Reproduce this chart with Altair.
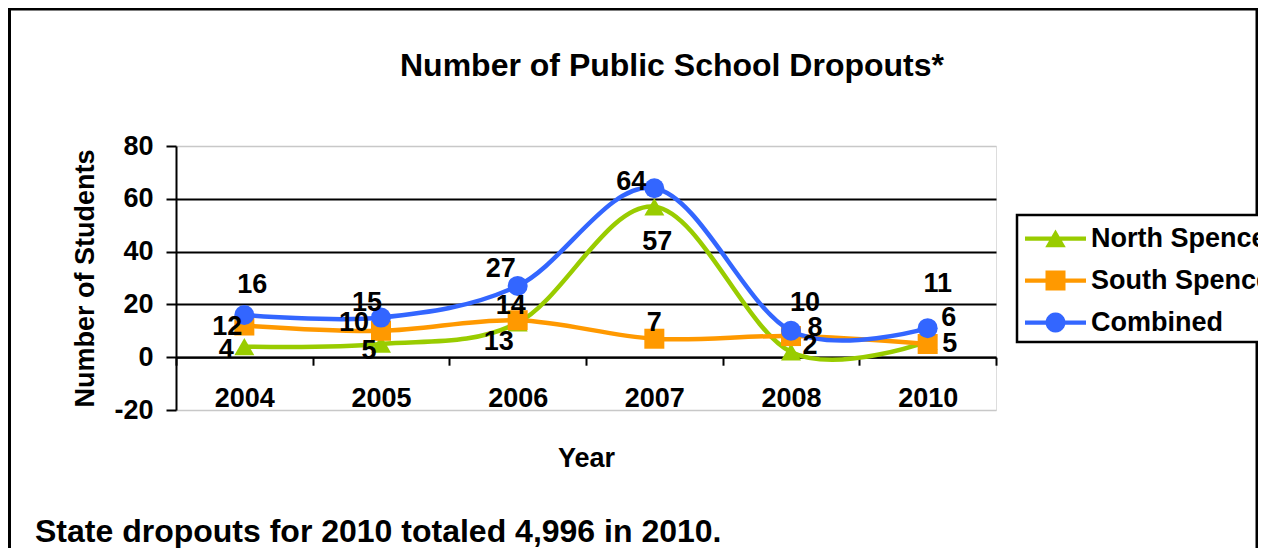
import math
import altair as alt
import pandas as pd

FONT = "Liberation Sans"

# ---------------- data ----------------
years = ["2004", "2005", "2006", "2007", "2008", "2010"]
north_spencer = [4, 5, 13, 57, 2, 6]
south_spencer = [12, 10, 14, 7, 8, 5]
combined = [16, 15, 27, 64, 10, 11]
series_names = ["North Spencer", "South Spencer", "Combined"]
series_values = [north_spencer, south_spencer, combined]
y_ticks = [-20, 0, 20, 40, 60, 80]
chart_title = "Number of Public School Dropouts*"
footnote = "State dropouts for 2010 totaled 4,996 in 2010."
x_title = "Year"
y_title = "Number of Students"

# ---------------- style ----------------
series_colors = ["#99CC00", "#FF9900", "#3366FF"]
marker_shapes = ["triangle-up", "square", "circle"]
# data label offsets (dx, dy) in pixels from each marker
label_offsets = [
    [(-18, 3), (-12, 7), (-19, 19), (3, 35), (19, -6), (21, -23)],
    [(-17, 1), (-27, -8), (-7, -14), (0, -16), (24, -8), (22, 0)],
    [(8, -30), (-14, -15), (-17, -17), (-23, -6), (14, -28), (10, -44)],
]

W, H = 820, 264
PAD = {"left": 168, "top": 138, "right": 262, "bottom": 138}

rows = []
for name, vals in zip(series_names, series_values):
    for yr, v in zip(years, vals):
        rows.append({"series": name, "year": yr, "value": v})
df = pd.DataFrame(rows)

x_enc = alt.X(
    "year:O",
    scale=alt.Scale(type="band", domain=years, paddingInner=0, paddingOuter=0),
    axis=alt.Axis(
        title=x_title,
        labelAngle=0,
        offset=-52.8,
        tickBand="extent",
        grid=False,
        domainColor="black",
        domainWidth=2,
        tickColor="black",
        tickWidth=2,
        tickSize=8,
        labelPadding=20,
        labelFont=FONT,
        labelFontSize=27,
        labelFontWeight="bold",
        labelColor="black",
        titleFont=FONT,
        titleFontSize=27,
        titleFontWeight="bold",
        titleColor="black",
        titlePadding=34,
    ),
)
y_enc = alt.Y(
    "value:Q",
    scale=alt.Scale(domain=[-20, 80], nice=False, zero=False),
    axis=alt.Axis(
        title=y_title,
        values=y_ticks,
        labelExpr="'' + datum.value",
        grid=True,
        gridColor={"condition": {"test": "datum.value == 80 || datum.value == -20", "value": "#c8c8c8"}, "value": "black"},
        gridWidth={"condition": {"test": "datum.value == 80 || datum.value == -20", "value": 1.5}, "value": 2},
        domainColor="black",
        domainWidth=2,
        tickColor="black",
        tickWidth=2,
        tickSize=10,
        labelPadding=13,
        labelFont=FONT,
        labelFontSize=27,
        labelFontWeight="bold",
        labelColor="black",
        titleFont=FONT,
        titleFontSize=27,
        titleFontWeight="bold",
        titleColor="black",
        titlePadding=14,
    ),
)

base = alt.Chart(df)
one_row = alt.Data(values=[{"k": 1}])

# outer frame of the chart
frame = alt.Chart(one_row).mark_rect(
    filled=False, stroke="black", strokeWidth=3
).encode(
    x=alt.value(-166.5), x2=alt.value(1081), y=alt.value(-137), y2=alt.value(430)
)

# box behind the legend (thick border)
legend_box = alt.Chart(one_row).mark_rect(
    fill="white", stroke="black", strokeWidth=2.5
).encode(
    x=alt.value(841), x2=alt.value(1100), y=alt.value(69), y2=alt.value(196)
)

# legend symbols: line segment with marker (unit = 12.5 px)
line_part = "M-1.16,-0.17H3.72V0.17H-1.16Z"
cx = 1.28
tri = f"M{cx},-0.72L{cx+0.82},0.7L{cx-0.82},0.7Z"
sq = f"M{cx-0.8},-0.8H{cx+0.8}V0.8H{cx-0.8}Z"
pts_c = []
for k in range(24):
    a = 2 * math.pi * k / 24
    pts_c.append(f"{cx + 0.8*math.cos(a):.3f},{0.8*math.sin(a):.3f}")
circ = "M" + "L".join(pts_c) + "Z"
legend_paths = [line_part + tri, line_part + sq, line_part + circ]

legend_def = dict(
    title=None,
    orient="none",
    legendX=840,
    legendY=69,
    labelFont=FONT,
    labelFontSize=27,
    labelFontWeight="bold",
    labelColor="black",
    labelLimit=600,
    labelOffset=38,
    symbolSize=625,
    symbolStrokeWidth=0,
    symbolOpacity=1,
    padding=10,
    rowPadding=14,
    strokeColor="transparent",
    fillColor="transparent",
)
legend_layer = base.transform_filter("false").mark_point(
    filled=True, size=625, opacity=1, strokeWidth=0
).encode(
    color=alt.Color("series:N", scale=alt.Scale(domain=series_names, range=series_colors),
                    legend=alt.Legend(**legend_def)),
    shape=alt.Shape("series:N", scale=alt.Scale(domain=series_names, range=legend_paths),
                    legend=alt.Legend(**legend_def)),
)

layers = [frame, legend_box, legend_layer]
for name, shape, col in zip(series_names, marker_shapes, series_colors):
    line = base.transform_filter(alt.datum.series == name).mark_line(
        interpolate="cardinal", tension=0, strokeWidth=4.5, color=col
    ).encode(x=x_enc, y=y_enc)
    pts = base.transform_filter(alt.datum.series == name).mark_point(
        shape=shape, filled=True, size=400, opacity=1, strokeWidth=0, color=col
    ).encode(x=x_enc, y=y_enc)
    layers += [line, pts]

for name, offs in zip(series_names, label_offsets):
    for yr, (dx, dy) in zip(years, offs):
        t = base.transform_filter(
            (alt.datum.series == name) & (alt.datum.year == yr)
        ).mark_text(
            dx=dx, dy=dy, font=FONT, fontSize=27, fontWeight="bold",
            color="black", align="center", baseline="middle"
        ).encode(x=x_enc, y=y_enc, text="value:Q")
        layers.append(t)

title_layer = alt.Chart(alt.Data(values=[{"t": chart_title}])).mark_text(
    align="center", baseline="alphabetic", font=FONT, fontSize=32, fontWeight="bold", color="black"
).encode(x=alt.value(672 - 176), y=alt.value(76 - 146), text="t:N")

foot = alt.Chart(alt.Data(values=[{"t": footnote}])).mark_text(
    align="left", baseline="alphabetic", font=FONT, fontSize=32, fontWeight="bold", color="black"
).encode(x=alt.value(35 - 176), y=alt.value(542 - 146), text="t:N")
layers += [title_layer, foot]

chart = alt.layer(*layers).properties(
    width=W,
    height=H,
    padding=PAD,
    autosize=alt.AutoSizeParams(type="none"),
).configure_view(stroke=None).configure(background="white")

chart.save("out.html", embed_options={"renderer": "svg", "actions": False})
